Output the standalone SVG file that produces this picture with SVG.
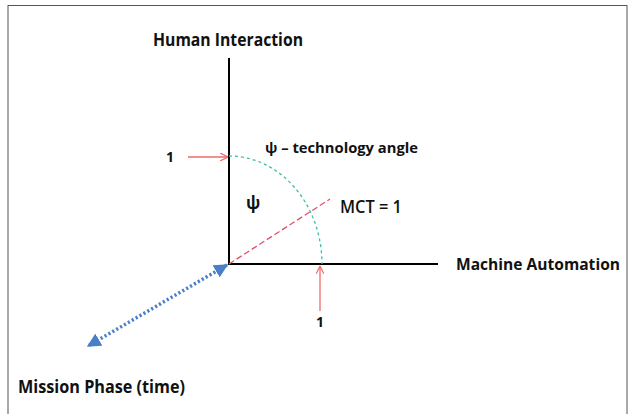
<svg xmlns="http://www.w3.org/2000/svg" width="628" height="414" viewBox="0 0 628 414">
  <style>
    .lbl { font-family: "Open Sans", "Liberation Sans", sans-serif; font-weight: 700; fill: #111; }
    .axis { stroke: #000; stroke-width: 2; fill: none; }
    .pin { stroke: #ee6b6b; stroke-width: 1.3; fill: none; marker-end: url(#redHead); }
  </style>
  <defs>
    <marker id="redHead" viewBox="0 0 10 10" refX="10" refY="5" markerWidth="8" markerHeight="8" markerUnits="userSpaceOnUse" orient="auto">
      <path d="M0,0 L10,5 L0,10" fill="none" stroke="#ee6b6b" stroke-width="1.5"/>
    </marker>
    <marker id="blueHead" viewBox="0 0 10 10" refX="9" refY="5" markerWidth="14" markerHeight="14" markerUnits="userSpaceOnUse" orient="auto-start-reverse">
      <path d="M0,0 L10,5 L0,10 z" fill="#4a7fc8"/>
    </marker>
  </defs>

  <rect x="0" y="0" width="628" height="414" fill="#fff"/>
  <!-- frame -->
  <rect x="8" y="5.5" width="619" height="410" fill="none" stroke="#555" stroke-width="1"/>

  <g id="axes">
    <line class="axis" x1="229" y1="58" x2="229" y2="265"/>
    <line class="axis" x1="228" y1="264" x2="438" y2="264"/>
  </g>

  <g id="connectors">
    <!-- unit arc -->
    <path d="M229,156 A93,108 0 0 1 322,264" fill="none" stroke="#3dbfa8" stroke-width="1.3" stroke-dasharray="3,3"/>
    <!-- MCT vector -->
    <line x1="229" y1="264" x2="330" y2="199" stroke="#e0506a" stroke-width="1.3" stroke-dasharray="6,3"/>
    <!-- unit markers -->
    <line class="pin" x1="188" y1="157" x2="228" y2="157"/>
    <line class="pin" x1="320" y1="311" x2="320" y2="266"/>
    <!-- time axis -->
    <line x1="227" y1="265" x2="88" y2="346" stroke="#4a7fc8" stroke-width="3.5" stroke-dasharray="2.2,2.3" marker-start="url(#blueHead)" marker-end="url(#blueHead)"/>
  </g>

  <g id="human-interaction"><text class="lbl" x="153" y="46" font-size="17" textLength="150" lengthAdjust="spacingAndGlyphs">Human Interaction</text></g>
  <g id="machine-automation"><text class="lbl" x="456" y="270" font-size="16" textLength="164" lengthAdjust="spacingAndGlyphs">Machine Automation</text></g>
  <g id="mission-phase"><text class="lbl" x="18" y="393" font-size="17" textLength="167" lengthAdjust="spacingAndGlyphs">Mission Phase (time)</text></g>
  <g id="technology-angle"><text class="lbl" x="265" y="153" font-size="15" textLength="153" lengthAdjust="spacingAndGlyphs">ψ –  technology angle</text></g>
  <g id="psi"><text class="lbl" x="246" y="209" font-size="17">ψ</text></g>
  <g id="mct"><text x="340" y="213" font-size="18" font-weight="600" font-family="Open Sans, Liberation Sans, sans-serif" fill="#111" textLength="62" lengthAdjust="spacingAndGlyphs">MCT = 1</text></g>
  <g id="unit-h"><text class="lbl" x="170" y="162" font-size="14" text-anchor="middle">1</text></g>
  <g id="unit-v"><text class="lbl" x="320" y="327" font-size="14" text-anchor="middle">1</text></g>
</svg>
